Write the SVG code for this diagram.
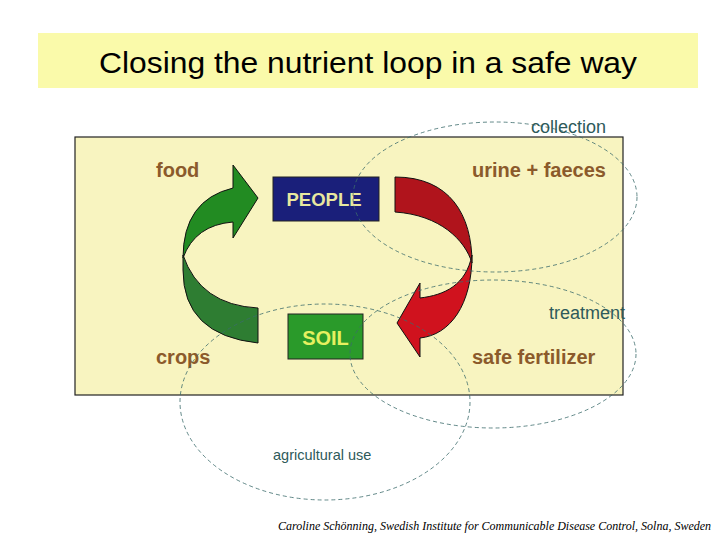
<svg xmlns="http://www.w3.org/2000/svg" width="720" height="540" viewBox="0 0 720 540">
<style>
.lbl{font-family:"Liberation Sans",Arial,sans-serif;font-weight:bold;font-size:20px;fill:#8b5a2b}
.note{font-family:"Liberation Sans",Arial,sans-serif;font-size:18px;fill:#2e5a5a}
.ell{fill:none;stroke:#3b6b6b;stroke-width:0.8;stroke-dasharray:4,3}
.ol{stroke:#111;stroke-width:1}
</style>
<rect width="720" height="540" fill="#fff"/>
<g id="title"><rect x="38" y="33" width="660" height="55" fill="#fafaaa"/>
<text x="99" y="73" textLength="538" lengthAdjust="spacingAndGlyphs" font-family="Liberation Sans,Arial,sans-serif" font-size="29" fill="#000">Closing the nutrient loop in a safe way</text></g>
<g id="panel"><rect x="75" y="137" width="548" height="258" fill="#f8f4c0" stroke="#222" stroke-width="1.2"/></g>
<g id="green-arrow">
<path class="ol" fill="#228b22" d="M233,188 Q183,200 183,258 Q195,225 233,222 L233,238 L258,198 L233,165 Z"/>
<path class="ol" fill="#2e7d32" d="M183,255 Q200,305 258,308 L258,343 Q183,335 183,270 Z"/>
</g>
<g id="red-arrow">
<path class="ol" fill="#b0141c" d="M395,177 C450,177 472,215 472,263 C465,240 440,215 395,212 Z"/>
<path class="ol" fill="#d0121e" d="M472,255 C472,305 450,335 420,338 L420,357 L397,323 L420,283 L420,298 C445,295 466,285 472,255 Z"/>
</g>
<g id="people"><rect x="273" y="177" width="106" height="44" fill="#1a1f7a" stroke="#222"/>
<text x="324" y="206" text-anchor="middle" font-family="Liberation Sans,Arial,sans-serif" font-weight="bold" font-size="18.5" fill="#e8e8a0">PEOPLE</text></g>
<g id="soil"><rect x="288" y="314" width="75" height="45" fill="#2a9a2a" stroke="#222"/>
<text x="325.5" y="345" text-anchor="middle" font-family="Liberation Sans,Arial,sans-serif" font-weight="bold" font-size="20" fill="#e6f060">SOIL</text></g>
<g id="labels">
<text class="lbl" x="156" y="177">food</text>
<text class="lbl" x="472" y="177">urine + faeces</text>
<text class="lbl" x="156" y="364">crops</text>
<text class="lbl" x="472" y="364">safe fertilizer</text>
</g>
<g id="connectors">
<ellipse class="ell" cx="495" cy="197" rx="142" ry="75"/>
<ellipse class="ell" cx="493" cy="354" rx="143" ry="74"/>
<ellipse class="ell" cx="325" cy="402" rx="145" ry="98"/>
</g>
<g id="notes">
<text class="note" x="531" y="133">collection</text>
<text class="note" x="549" y="319">treatment</text>
<text class="note" x="273" y="460" style="font-size:14.5px">agricultural use</text>
</g>
<text x="278" y="530" font-family="Liberation Serif,serif" font-style="italic" font-size="12" fill="#000">Caroline Schönning, Swedish Institute for Communicable Disease Control, Solna, Sweden</text>
</svg>
